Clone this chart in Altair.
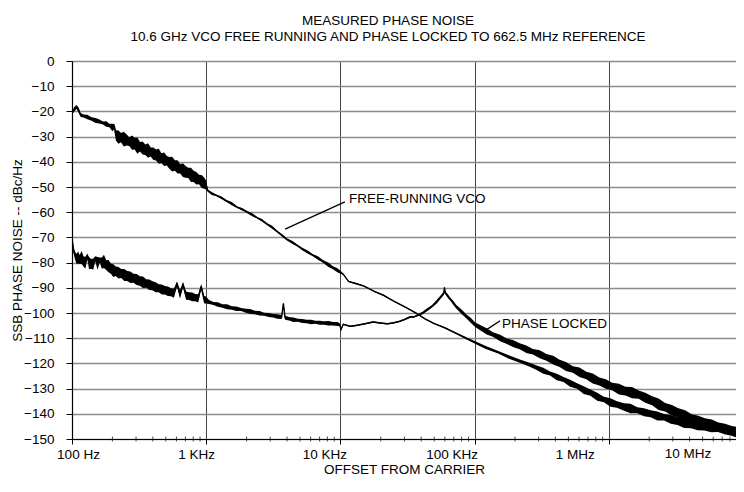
import altair as alt
import pandas as pd

FONT = "Liberation Sans"

# ---------------- text ----------------
TITLE_LINES = ["MEASURED PHASE NOISE",
               "10.6 GHz VCO FREE RUNNING AND PHASE LOCKED TO 662.5 MHz REFERENCE"]
X_TITLE = "OFFSET FROM CARRIER"
Y_TITLE = "SSB PHASE NOISE -- dBc/Hz"

# ---------------- axes ----------------
X_TICKS = [100, 1000, 10000, 100000, 1000000, 10000000]
X_TICK_LABELS = ["100 Hz", "1 KHz", "10 KHz", "100 KHz", "1 MHz", "10 MHz"]
X_MAX = 8.87e6          # right edge of the visible plot
Y_TICKS = list(range(-150, 1, 10))
MINOR_TICKS = [m * d for d in X_TICKS[:-1] for m in range(2, 10)]

# ---------------- free-running VCO ----------------
FR_F = [100, 104, 108, 112, 116, 122, 130, 140, 150, 160, 170, 180, 190, 200, 207,
        212, 222, 232, 243, 255, 267, 280, 293, 307, 321, 336, 352, 369, 386, 404,
        423, 443, 464, 486, 509, 533, 558, 584, 612, 641, 671, 702, 735, 770, 806,
        844, 884, 925, 969, 1000,
        1030, 1100, 1200, 1300, 1420, 1550, 1700, 1850, 2000, 2200, 2400, 2600,
        2850, 3100, 3400, 3700, 4000, 4400, 4800, 5200, 5700, 6200, 6800, 7400,
        8100, 8800, 9500, 10000,
        10500, 11500, 13000, 15000, 18000, 21000, 25000, 30000, 36000, 43000,
        50000, 60000, 70000, 85000, 100000, 120000, 150000, 180000, 220000, 260000,
        290000, 325000, 365000, 410000, 460000, 515000, 580000, 650000, 730000,
        820000, 920000, 1030000, 1150000, 1300000, 1450000, 1630000, 1830000,
        2050000, 2300000, 2580000, 2900000, 3250000, 3650000, 4100000, 4600000,
        5150000, 5800000, 6500000, 7300000, 8200000, 9200000, 10000000]
FR_DB = [-20.5, -19.2, -18.2, -19.5, -21.4, -21.8, -22.2, -23.0, -23.6, -24.0,
         -24.6, -25.0, -25.6, -26.4, -26.0,
         -29.5, -30.2, -30.4, -31.0, -31.3, -32.0, -32.4, -32.8, -33.6, -34.0,
         -34.5, -35.2, -35.5, -36.1, -36.8, -37.3, -37.8, -38.6, -39.0, -39.6,
         -40.5, -40.9, -41.5, -42.0, -42.8, -43.3, -44.0, -44.4, -45.2, -45.8,
         -46.5, -47.0, -47.8, -48.5, -49.3,
         -51.5, -52.6, -53.4, -54.3, -55.6, -56.6, -58.0, -58.8, -59.8, -61.0,
         -62.2, -63.2, -64.8, -66.0, -67.8, -69.3, -70.8, -72.0, -73.3, -74.6,
         -75.8, -77.0, -78.2, -79.5, -80.8, -82.0, -83.0, -83.8,
         -84.6, -87.5, -88.3, -89.3, -91.5, -93.0, -95.3, -97.5, -99.8, -102.4,
         -104.2, -105.9, -107.6, -109.8, -111.6, -113.6, -115.6, -117.5, -119.2,
         -120.6,
         -121.7, -122.9, -124.0, -125.4, -126.4, -127.9, -129.0, -130.6, -131.6,
         -133.2, -134.3, -135.5, -136.3, -137.3, -137.9, -138.6, -139.4, -140.0,
         -140.9, -141.4, -142.2, -142.9, -143.6, -144.3, -144.7, -145.1, -145.4,
         -145.8, -146.4, -147.1, -147.8, -148.3]
FR_NOISE = [0.6, 0.9, 0.7, 1.0, 0.8, 0.6, 0.9, 0.7, 1.0, 0.8, 0.6, 1.1, 0.7, 1.5, 1.0,
            2.0, 2.6, 1.8, 2.9, 2.2, 1.7, 2.8, 2.3, 3.2, 1.9, 2.6, 2.1, 2.9, 1.8,
            2.5, 2.2, 3.0, 2.0, 2.7, 1.9, 2.4, 2.9, 2.1, 2.6, 1.8, 2.7, 2.3, 2.0,
            2.8, 2.2, 2.5, 1.9, 2.6, 2.2, 1.8,
            0.4, 0.6, 0.3, 0.5, 0.4, 0.6, 0.3, 0.5, 0.4, 0.6, 0.3, 0.5, 0.4, 0.6,
            0.3, 0.5, 0.4, 0.6, 0.4, 0.5, 0.6, 0.4, 0.7, 0.5, 0.8, 0.6, 0.8, 0.6,
            0.2, 0.2, 0.3, 0.2, 0.2, 0.3, 0.2, 0.2, 0.3, 0.2, 0.2, 0.3, 0.3, 0.4,
            0.5, 0.6, 0.5, 0.7, 0.6, 0.8,
            0.9, 1.2, 0.8, 1.3, 1.0, 1.4, 1.1, 1.5, 1.2, 1.6, 1.1, 1.7, 1.3, 1.5,
            1.9, 1.2, 1.6, 1.4, 1.8, 1.3, 1.7, 1.5, 2.0, 1.4, 1.8, 1.5, 1.9, 1.4,
            1.7, 1.6, 1.8, 1.5]

# ---------------- phase locked ----------------
PL_F = [100, 101, 103, 105, 108, 111, 114, 118, 122, 126, 130, 134, 139, 144, 149,
        155, 161, 167, 173, 180, 187, 195, 203, 212, 222, 233, 245, 258, 272, 287,
        303, 320, 338, 357, 377, 398, 420, 443, 467, 492, 518, 546, 575, 606, 638,
        672, 708, 746, 786, 828, 872, 918, 966, 1000,
        1050, 1130, 1220, 1320, 1430, 1550, 1680, 1820, 1970, 2130, 2300, 2500,
        2700, 2920, 3150, 3400, 3650, 3760, 3870, 4150, 4470, 4820, 5200, 5600,
        6050, 6500, 7000, 7550, 8150, 8800, 9500, 9900, 10100,
        10500, 11800, 13000, 13900, 15500, 17500, 20000, 22400, 25000, 27700,
        30000, 33000, 35500, 38000, 41000, 44000, 48000, 52000, 56000, 59000,
        59600, 60500, 63000, 66000, 70000, 73000, 80000, 87000, 94000, 101000,
        110000, 123000, 137000, 155000, 174000, 195000, 217000, 243000, 272000,
        306000, 343000, 385000, 430000, 480000, 540000, 605000, 680000, 760000,
        850000, 950000, 1060000, 1190000, 1330000, 1490000, 1670000, 1870000,
        2100000, 2350000, 2630000, 2950000, 3300000, 3700000, 4150000, 4650000,
        5200000, 5850000, 6550000, 7350000, 8250000, 9250000, 10000000]
PL_DB = [-70.5, -72.0, -75.4, -77.0, -78.6, -78.0, -78.8, -78.0, -79.6, -80.0,
         -77.5, -80.2, -80.5, -80.6, -78.5, -80.3, -79.0, -80.2, -79.5, -81.0,
         -81.4, -82.4, -83.2, -83.4, -84.0, -84.3, -84.9, -85.3, -85.8, -86.2,
         -86.7, -87.3, -87.8, -88.3, -88.8, -89.2, -89.8, -90.2, -90.7, -91.0,
         -91.4, -91.8, -92.1, -88.5, -92.6, -88.8, -93.1, -93.3, -93.6, -93.9,
         -94.2, -89.5, -94.7, -94.9,
         -95.6, -96.2, -96.6, -97.2, -97.5, -98.0, -98.3, -98.6, -99.1, -99.4,
         -99.8, -100.1, -100.5, -100.8, -101.1, -101.4, -101.6, -96.2, -101.9,
         -102.3, -102.7, -102.9, -103.2, -103.4, -103.6, -103.7, -103.9, -104.0,
         -104.1, -104.3, -104.4, -104.7, -106.6,
         -104.5, -105.3, -105.0, -104.7, -104.2, -103.6, -104.0, -104.3, -103.9,
         -103.3, -102.6, -101.6, -101.5, -100.8, -100.0, -98.8, -97.4, -95.6,
         -93.6, -92.2, -89.8, -92.0, -93.2, -94.5, -96.2, -97.5, -99.5, -101.4,
         -103.0, -104.7,
         -105.8, -107.3, -108.5, -109.9, -111.2, -112.2, -113.2, -114.4, -115.4,
         -116.4, -117.6, -118.7, -120.0, -121.2, -122.4, -123.5, -124.8, -126.0,
         -127.2, -128.2, -129.2, -130.2, -131.0, -131.6, -132.4, -133.6, -134.8,
         -136.2, -137.4, -138.6, -139.7, -140.8, -141.9, -142.8, -143.6, -144.4,
         -145.1, -145.8, -146.5, -147.2, -147.7]
PL_NOISE = [0.4, 0.6, 1.0, 1.5, 2.0, 2.4, 1.8, 2.6, 2.0, 2.3, 1.0, 2.4, 1.9, 2.2,
            1.0, 2.5, 1.0, 2.2, 2.6, 1.9, 2.4, 2.0, 2.5, 1.9, 2.3, 1.8, 2.4, 2.0,
            2.3, 1.8, 2.2, 1.9, 2.3, 1.7, 2.1, 1.8, 2.0, 1.6, 2.0, 1.7, 1.9, 1.6,
            1.8, 1.0, 1.7, 1.0, 1.6, 1.5, 1.7, 1.4, 1.6, 1.0, 1.5, 1.3,
            0.8, 0.6, 0.9, 0.7, 1.0, 0.7, 0.9, 0.6, 0.8, 1.0, 0.7, 0.9, 0.6, 0.8,
            0.7, 0.9, 0.8, 0.3, 0.8, 0.7, 0.9, 0.6, 0.8, 0.7, 0.9, 0.6, 0.8, 0.7,
            0.9, 0.7, 0.8, 0.6, 0.3,
            0.3, 0.3, 0.3, 0.3, 0.3, 0.3, 0.3, 0.3, 0.3, 0.3, 0.3, 0.4, 0.3, 0.4,
            0.5, 0.6, 0.5, 0.7, 0.6, 0.7, 0.3, 0.6, 0.7, 0.6, 0.8, 0.7, 0.9, 0.8,
            1.0, 0.9,
            1.0, 1.2, 0.9, 1.3, 1.1, 1.4, 1.2, 1.5, 1.1, 1.6, 1.3, 1.7, 1.4, 1.8,
            1.3, 1.9, 1.5, 2.0, 1.6, 1.9, 1.5, 2.1, 1.7, 2.2, 1.6, 2.0, 1.8, 2.3,
            1.7, 2.1, 1.9, 2.2, 1.7, 2.0, 1.8, 2.1, 1.6, 1.9, 1.7, 1.8, 1.5]

# ---------------- annotations ----------------
NOTE_TEXT = ["FREE-RUNNING VCO", "PHASE LOCKED"]
NOTE_F = [11600, 160000]
NOTE_DB = [-54.8, -104.3]
POINTER_F1 = [3870, 123000]
POINTER_DB1 = [-66.7, -106.6]
POINTER_F2 = [10800, 155000]
POINTER_DB2 = [-55.9, -103.1]

# ---------------- styles ----------------
LABEL_SHIFT = "[6, -10, -16, -23, -34, -55]"
LAST_LABEL_SHIFT = -55
LABEL_TEXT = "[" + ", ".join("'%s'" % s for s in X_TICK_LABELS) + "]"

# ---------------- tables ----------------
def series_table(f, db, noise):
    return pd.DataFrame({"f": f, "db": db,
                         "lo": [d - n for d, n in zip(db, noise)],
                         "hi": [d + n for d, n in zip(db, noise)]})

fr = series_table(FR_F, FR_DB, FR_NOISE)
pl = series_table(PL_F, PL_DB, PL_NOISE)
minor = pd.DataFrame({"f": MINOR_TICKS, "db": [Y_TICKS[0]] * len(MINOR_TICKS)})
notes = pd.DataFrame({"f": NOTE_F, "db": NOTE_DB, "label": NOTE_TEXT})
pointers = pd.DataFrame({"f": POINTER_F1, "db": POINTER_DB1,
                         "f2": POINTER_F2, "db2": POINTER_DB2})
last_label = pd.DataFrame({"f": [X_TICKS[-1]], "db": [Y_TICKS[0]],
                           "label": [X_TICK_LABELS[-1]]})

xscale = alt.Scale(type="log", domain=[X_TICKS[0], X_MAX], nice=False)
yscale = alt.Scale(domain=[Y_TICKS[0], Y_TICKS[-1]], nice=False, zero=False)

PLOT_H = 378

xaxis = alt.Axis(
    values=X_TICKS[:-1], title=X_TITLE,
    labelExpr=LABEL_TEXT + "[round(log(datum.value) / LN10) - 2]",
    labelOffset={"expr": LABEL_SHIFT + "[round(log(datum.value) / LN10) - 2]"},
    labelFlush=False, labelOverlap=False, labelBound=False,
    grid=True, gridColor="#444444", gridWidth=1,
    tickSize=5, tickColor="black", domainColor="black", domainWidth=1.2,
    labelPadding=3, labelFont=FONT, labelFontSize=13.5, labelColor="black",
    titleFont=FONT, titleFontSize=13.5, titleFontWeight="normal", titleColor="black",
    titleY=30, titleBaseline="middle",
)
yaxis = alt.Axis(
    values=Y_TICKS, title=Y_TITLE,
    grid=True, gridColor="#8c8c8c", gridWidth=1.3,
    tickSize=6, tickColor="black", domainColor="black", domainWidth=1.2,
    labelPadding=12, labelFont=FONT, labelFontSize=13.5, labelColor="black",
    titleFont=FONT, titleFontSize=13.5, titleFontWeight="normal", titleColor="black",
    titleX=-55, titleY=PLOT_H / 2, titleBaseline="middle", titleAlign="center",
)

X = alt.X("f:Q", scale=xscale, axis=xaxis)

def Y(field):
    return alt.Y(field, scale=yscale, axis=yaxis)

def band(df):
    return alt.Chart(df).mark_area(color="black", opacity=1, clip=True).encode(
        x=X, y=Y("lo:Q"), y2="hi:Q")

def line(df):
    return alt.Chart(df).mark_line(color="black", strokeWidth=1.4, clip=True).encode(
        x=X, y=Y("db:Q"))

ticks = alt.Chart(minor).mark_tick(orient="vertical", size=5, thickness=1,
                                   color="black").encode(x=X, y=Y("db:Q"))

rules = alt.Chart(pointers).mark_rule(color="black", strokeWidth=1.3).encode(
    x=X, x2="f2:Q", y=Y("db:Q"), y2="db2:Q")

texts = alt.Chart(notes).mark_text(align="left", baseline="middle", font=FONT,
                                   fontSize=13.5, color="black").encode(
    x=X, y=Y("db:Q"), text="label:N")

end_label = alt.Chart(last_label).mark_text(
    align="center", baseline="top", font=FONT, fontSize=13.5, color="black",
    dx=LAST_LABEL_SHIFT, dy=8).encode(x=X, y=Y("db:Q"), text="label:N")

chart = alt.layer(band(fr), band(pl), line(fr), line(pl), ticks, rules, texts,
                  end_label).properties(
    width=664, height=PLOT_H,
    autosize=alt.AutoSizeParams(type="none"),
    padding={"left": 64, "top": 53, "right": 0, "bottom": 40},
    title=alt.TitleParams(text=TITLE_LINES, font=FONT, fontSize=13.5,
                          fontWeight="normal", color="black", anchor="middle",
                          frame="group", dx=-16, offset=10, lineHeight=16.7),
).configure_view(stroke=None).configure(background="white")

chart.save("out.html", embed_options={"renderer": "svg", "actions": False})
